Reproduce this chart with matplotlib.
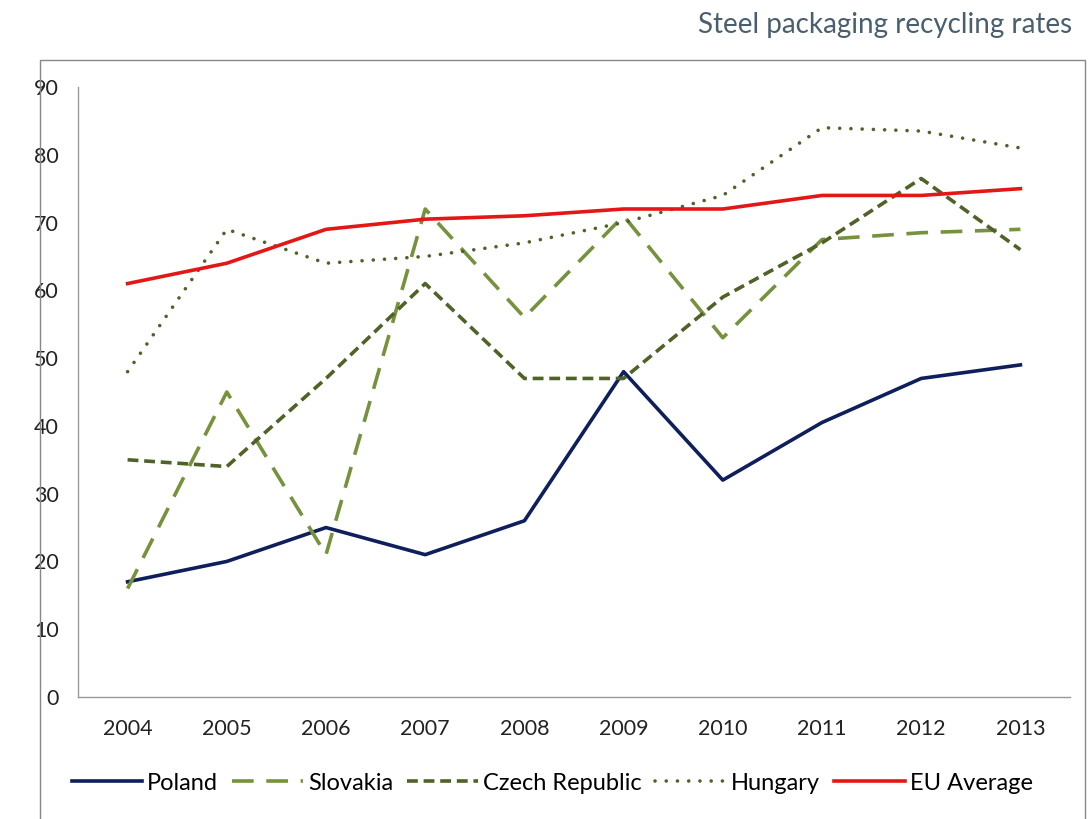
import matplotlib.pyplot as plt
from matplotlib.patches import Rectangle

# Data
years = [2004, 2005, 2006, 2007, 2008, 2009, 2010, 2011, 2012, 2013]
poland = [17, 20, 25, 21, 26, 48, 32, 40.5, 47, 49]
slovakia = [16, 45, 21, 72, 56, 71, 53, 67.5, 68.5, 69]
czech = [35, 34, 47, 61, 47, 47, 59, 67, 76.5, 66]
hungary = [48, 69, 64, 65, 67, 70, 74, 84, 83.5, 81]
eu_avg = [61, 64, 69, 70.5, 71, 72, 72, 74, 74, 75]

plt.rcParams['font.family'] = ['Lato', 'DejaVu Sans']

fig = plt.figure(figsize=(10.91, 8.19), dpi=100)
W, H = 1091, 819

# outer chart border
fig.patches.append(Rectangle((40 / W, -0.01), 1045 / W, 1 - 60 / H + 0.01,
                             transform=fig.transFigure, fill=False,
                             edgecolor='#888888', linewidth=1.0))

fig.text(1072 / W, 1 - 25 / H, 'Steel packaging recycling rates',
         ha='right', va='center', fontsize=20, color='#4a5f6e')

ax = fig.add_axes([78 / W, 1 - 697 / H, (1070 - 78) / W, (697 - 87) / H])

ax.plot(years, poland, color='#0e1f5b', lw=2.6, label='Poland')
ax.plot(years, slovakia, color='#76923c', lw=2.6, dashes=(6, 3.5), label='Slovakia')
ax.plot(years, czech, color='#4f6228', lw=2.6, dashes=(3, 1.6), label='Czech Republic')
ax.plot(years, hungary, color='#4f6228', lw=2.6, dashes=(0.01, 3.1), dash_capstyle='round',
        label='Hungary')
ax.plot(years, eu_avg, color='#e41717', lw=2.6, label='EU Average')

ax.set_ylim(0, 90)
ax.set_xlim(2003.5, 2013.5)
ax.set_xticks(years)
ax.set_yticks(range(0, 91, 10))
for s in ['top', 'right']:
    ax.spines[s].set_visible(False)
for s in ['left', 'bottom']:
    ax.spines[s].set_color('#999999')
    ax.spines[s].set_linewidth(1.0)
ax.tick_params(length=0, labelsize=15.5, colors='#222222')
ax.tick_params(axis='x', pad=16)
ax.tick_params(axis='y', pad=14)

ax.legend(loc='center', bbox_to_anchor=(0.478, -0.141), ncol=5, frameon=False,
          fontsize=17, handlelength=3.0, handletextpad=0.2, columnspacing=0.6)

fig.savefig('out.png', dpi=100)
